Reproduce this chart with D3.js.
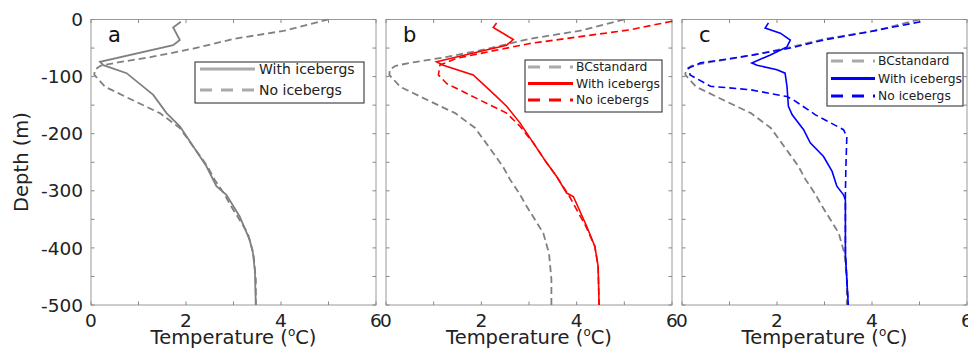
<!DOCTYPE html>
<html>
<head>
<meta charset="utf-8">
<script src="https://cdn.jsdelivr.net/npm/d3@7"></script>
<style>
  body { margin: 0; background: #fff; }
  text { font-family: "DejaVu Sans", sans-serif; }
</style>
</head>
<body>
<div id="chart"></div>
<script>
// temperature (C), depth (m) pairs
var bcStandard = [[5.0,0],[4.05,-20],[3.0,-34],[2.15,-51],[1.25,-66],[0.57,-75],[0.2,-81],[0.08,-88],[0.07,-97],[0.3,-118],[0.87,-141],[1.45,-164],[1.87,-190],[2.2,-228],[2.45,-257],[2.6,-280],[2.8,-305],[2.95,-327],[3.3,-374],[3.42,-410],[3.47,-455],[3.47,-500]];

var aWith = [[1.89,-4],[1.73,-14],[1.87,-36],[1.73,-45],[0.19,-74],[0.26,-80],[0.75,-94],[1.31,-132],[1.59,-164],[1.87,-187],[2.15,-222],[2.43,-257],[2.64,-292],[2.85,-307],[3.13,-345],[3.34,-386],[3.41,-409],[3.45,-440],[3.47,-500]];

var bWith = [[2.32,-6],[2.25,-14],[2.67,-35],[2.53,-45],[1.97,-56],[1.06,-74],[1.2,-80],[1.83,-97],[2.32,-135],[2.53,-152],[2.81,-181],[3.09,-216],[3.37,-251],[3.58,-275],[3.79,-304],[3.93,-310],[4.21,-362],[4.38,-397],[4.45,-432],[4.47,-500]];
var bNo = [[6.0,-3],[5.12,-18],[4.07,-30],[3.02,-42],[2.18,-56],[1.48,-68],[1.13,-80],[1.1,-97],[1.27,-112],[1.97,-141],[2.53,-164],[2.81,-187],[3.09,-216],[3.37,-251],[3.58,-275],[3.85,-310],[4.19,-362],[4.38,-397],[4.45,-432],[4.47,-500]];

var cWith = [[1.82,-6],[1.75,-15],[2.07,-24],[2.28,-36],[2.21,-48],[1.86,-62],[1.47,-76],[1.58,-80],[2.0,-88],[2.17,-94],[2.21,-117],[2.24,-152],[2.32,-167],[2.56,-193],[2.7,-216],[2.98,-240],[3.16,-266],[3.26,-292],[3.4,-307],[3.44,-316],[3.44,-409],[3.5,-500]];
var cNo = [[5.02,-4],[3.96,-21],[2.98,-36],[2.28,-50],[1.51,-62],[0.81,-71],[0.39,-76],[0.14,-85],[0.17,-97],[0.6,-117],[1.44,-123],[2.21,-135],[2.35,-141],[2.81,-167],[3.4,-193],[3.47,-205],[3.45,-260],[3.44,-304],[3.44,-316],[3.44,-409],[3.5,-500]];

var panelLabels = ["a", "b", "c"];
var xTicks = [0, 1, 2, 3, 4, 5, 6];
var yTicks = [-500, -450, -400, -350, -300, -250, -200, -150, -100, -50, 0];

var width = 968, height = 351;
var plotTop = 19.5, plotBottom = 305;
var gray = "#808080", legGray = "#aaaaaa";

var svg = d3.select("#chart").append("svg")
    .attr("width", width)
    .attr("height", height);

var y = d3.scaleLinear().domain([-500, 0]).range([plotBottom, plotTop]);

var panels = [
  {left: 91, right: 376, label: panelLabels[0],
   series: [
     {data: aWith, color: gray, dash: null, name: "With icebergs", legColor: legGray},
     {data: bcStandard, color: gray, dash: "7,4", name: "No icebergs", legColor: legGray}
   ],
   legend: {x: 195, y: 62, w: 169, h: 41, lineX: [200, 255], textX: 259, rows: [69, 90], fs: 14}},
  {left: 386, right: 672, label: panelLabels[1],
   series: [
     {data: bcStandard, color: gray, dash: "7,4", name: "BCstandard", legColor: legGray},
     {data: bWith, color: "#ff0000", dash: null, name: "With icebergs", legColor: "#ff0000"},
     {data: bNo, color: "#ff0000", dash: "7,4", name: "No icebergs", legColor: "#ff0000"}
   ],
   legend: {x: 525, y: 60, w: 137, h: 52, lineX: [528, 573], textX: 576, rows: [67, 83.5, 100], fs: 12.3}},
  {left: 682, right: 967, label: panelLabels[2],
   series: [
     {data: bcStandard, color: gray, dash: "7,4", name: "BCstandard", legColor: legGray},
     {data: cWith, color: "#0000ff", dash: null, name: "With icebergs", legColor: "#0000ff"},
     {data: cNo, color: "#0000ff", dash: "7,4", name: "No icebergs", legColor: "#0000ff"}
   ],
   legend: {x: 827, y: 53, w: 136, h: 53, lineX: [831, 875], textX: 878, rows: [61, 78.5, 96], fs: 12.3}}
];

panels.forEach(function(p, i) {
  var x = d3.scaleLinear().domain([0, 6]).range([p.left, p.right]);
  var g = svg.append("g");

  // box
  g.append("rect")
      .attr("x", p.left).attr("y", plotTop)
      .attr("width", p.right - p.left).attr("height", plotBottom - plotTop)
      .attr("fill", "none").attr("stroke", "#9a9a9a").attr("stroke-width", 1);

  // inward ticks on all sides
  xTicks.forEach(function(t) {
    g.append("line").attr("x1", x(t)).attr("x2", x(t)).attr("y1", plotBottom).attr("y2", plotBottom - 3.5)
        .attr("stroke", "#888");
    g.append("line").attr("x1", x(t)).attr("x2", x(t)).attr("y1", plotTop).attr("y2", plotTop + 3.5)
        .attr("stroke", "#888");
    if (t % 2 === 0) {
      g.append("text").attr("x", x(t)).attr("y", plotBottom + 22)
          .attr("text-anchor", "middle").attr("font-size", 18.5).attr("fill", "#222")
          .text(t);
    }
  });
  yTicks.forEach(function(t) {
    g.append("line").attr("x1", p.left).attr("x2", p.left + 3.5).attr("y1", y(t)).attr("y2", y(t))
        .attr("stroke", "#888");
    g.append("line").attr("x1", p.right).attr("x2", p.right - 3.5).attr("y1", y(t)).attr("y2", y(t))
        .attr("stroke", "#888");
    if (i === 0 && t % 100 === 0) {
      g.append("text").attr("x", p.left - 8).attr("y", y(t)).attr("dy", "0.36em")
          .attr("text-anchor", "end").attr("font-size", 18.5).attr("fill", "#222")
          .text(t === 0 ? "0" : "-" + Math.abs(t));
    }
  });

  var xl = g.append("text")
      .attr("x", (p.left + p.right) / 2).attr("y", 344)
      .attr("text-anchor", "middle").attr("font-size", 19.5).attr("fill", "#222");
  xl.append("tspan").text("Temperature (");
  xl.append("tspan").attr("font-size", 12).attr("dy", -8).text("o");
  xl.append("tspan").attr("dy", 8).text("C)");

  g.append("text")
      .attr("x", p.left + 17).attr("y", 42)
      .attr("font-size", 21).attr("fill", "#111")
      .text(p.label);

  var line = d3.line()
      .x(function(d) { return x(d[0]); })
      .y(function(d) { return y(d[1]); });

  p.series.forEach(function(s) {
    g.append("path")
        .datum(s.data)
        .attr("d", line)
        .attr("fill", "none")
        .attr("stroke", s.color)
        .attr("stroke-width", s.color === gray ? 1.8 : 1.6)
        .attr("stroke-dasharray", s.dash);
  });

  // legend
  var L = p.legend;
  g.append("rect").attr("x", L.x).attr("y", L.y).attr("width", L.w).attr("height", L.h)
      .attr("fill", "#fff").attr("stroke", "#222").attr("stroke-width", 1);
  p.series.slice().sort(function(a, b) {
    var order = ["BCstandard", "With icebergs", "No icebergs"];
    return order.indexOf(a.name) - order.indexOf(b.name);
  }).forEach(function(s, k) {
    g.append("line")
        .attr("x1", L.lineX[0]).attr("x2", L.lineX[1])
        .attr("y1", L.rows[k]).attr("y2", L.rows[k])
        .attr("stroke", s.legColor).attr("stroke-width", 3)
        .attr("stroke-dasharray", s.dash ? "12,9" : null);
    g.append("text")
        .attr("x", L.textX).attr("y", L.rows[k]).attr("dy", "0.35em")
        .attr("font-size", L.fs).attr("fill", "#222")
        .text(s.name);
  });
});

svg.append("text")
    .attr("transform", "translate(28,162) rotate(-90)")
    .attr("text-anchor", "middle").attr("font-size", 19.5).attr("fill", "#222")
    .text("Depth (m)");
</script>
</body>
</html>
